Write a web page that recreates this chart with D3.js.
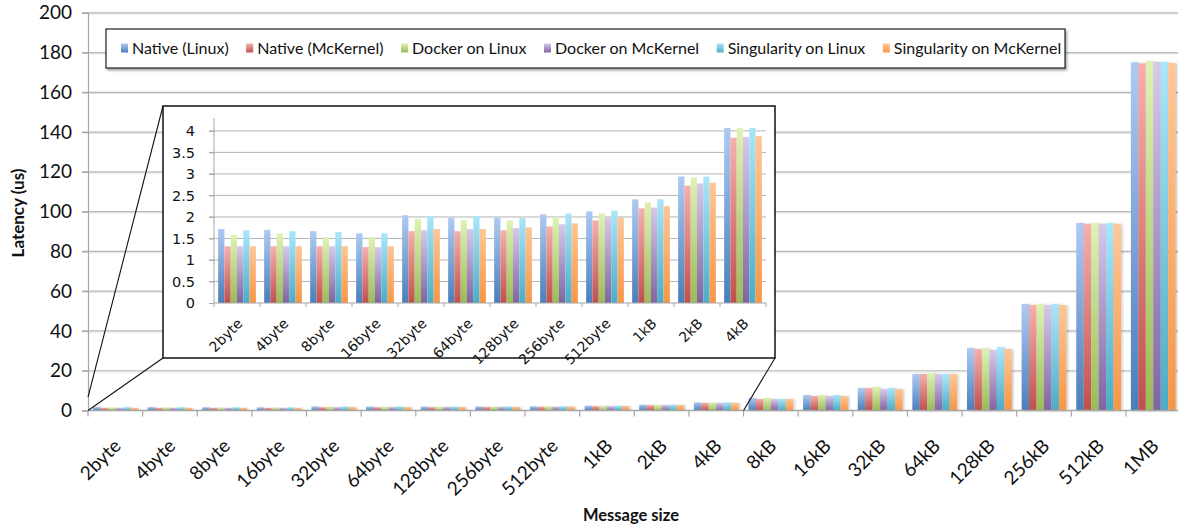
<!DOCTYPE html>
<html>
<head>
<meta charset="utf-8">
<script src="https://cdn.jsdelivr.net/npm/d3@7"></script>
<style>
  html, body { margin: 0; padding: 0; background: #fff; }
  svg { display: block; }
</style>
</head>
<body>
<svg id="chart" width="1178" height="529"></svg>
<script>
// Message sizes on the x axis
const categories = ["2byte","4byte","8byte","16byte","32byte","64byte","128byte","256byte","512byte",
  "1kB","2kB","4kB","8kB","16kB","32kB","64kB","128kB","256kB","512kB","1MB"];

// Latency in microseconds, one array per configuration
const nativeLinux    = [1.72,1.70,1.67,1.62,2.04,1.98,1.98,2.06,2.13,2.41,2.94,4.07,6.3,7.8,11.3,18.4,31.4,53.6,94.3,175.1];
const nativeMcKernel = [1.32,1.32,1.32,1.30,1.67,1.67,1.69,1.78,1.92,2.20,2.73,3.84,5.8,7.3,11.3,18.4,30.9,53.1,93.9,174.6];
const dockerLinux    = [1.58,1.62,1.53,1.53,1.95,1.92,1.92,1.99,2.08,2.34,2.92,4.07,6.3,7.8,11.8,18.9,31.4,53.6,94.3,175.8];
const dockerMcKernel = [1.32,1.32,1.32,1.30,1.69,1.72,1.74,1.83,1.99,2.22,2.78,3.86,5.8,7.3,10.8,18.4,30.4,53.1,93.9,175.3];
const singLinux      = [1.69,1.67,1.65,1.62,2.02,2.02,1.98,2.08,2.15,2.41,2.94,4.07,5.8,7.8,11.3,18.4,31.9,53.6,94.3,175.3];
const singMcKernel   = [1.32,1.32,1.32,1.32,1.72,1.72,1.76,1.85,1.98,2.25,2.80,3.88,5.8,7.3,10.8,18.4,30.9,53.1,93.9,174.7];

const seriesNames = ["Native (Linux)","Native (McKernel)","Docker on Linux","Docker on McKernel",
  "Singularity on Linux","Singularity on McKernel"];
const seriesValues = [nativeLinux, nativeMcKernel, dockerLinux, dockerMcKernel, singLinux, singMcKernel];

const mainTicks  = [0,20,40,60,80,100,120,140,160,180,200];
const insetTicks = [0,0.5,1,1.5,2,2.5,3,3.5,4];
const insetCount = 12; // 2byte .. 4kB are magnified in the inset

// Gradient stops (top, bottom) per series
const gradTop    = ["#aecaf2","#f6b0ad","#dff2b4","#d6c9ea","#abe6fa","#fdc797"];
const gradBottom = ["#4a7ebb","#c0504d","#9bbb59","#8064a2","#4bacc6","#f79646"];

const series = seriesNames.map((name, i) => ({ name, i, values: seriesValues[i] }));

const svg = d3.select("#chart");
const defs = svg.append("defs");

series.forEach(s => {
  const g = defs.append("linearGradient")
    .attr("id", "grad" + s.i)
    .attr("x1", 0).attr("y1", 0).attr("x2", 0).attr("y2", 1);
  g.append("stop").attr("offset", "0%").attr("stop-color", gradTop[s.i]);
  g.append("stop").attr("offset", "100%").attr("stop-color", gradBottom[s.i]);
});

const shadow = defs.append("filter").attr("id", "barShadow")
  .attr("x", "-20%").attr("y", "-5%").attr("width", "160%").attr("height", "110%");
shadow.append("feDropShadow").attr("dx", 1.5).attr("dy", 0.5)
  .attr("stdDeviation", 0.8).attr("flood-color", "#000").attr("flood-opacity", 0.22);

const boxShadow = defs.append("filter").attr("id", "boxShadow")
  .attr("x", "-5%").attr("y", "-20%").attr("width", "110%").attr("height", "150%");
boxShadow.append("feDropShadow").attr("dx", 1.5).attr("dy", 2)
  .attr("stdDeviation", 1).attr("flood-color", "#000").attr("flood-opacity", 0.35);

const sansMain = "Lato, 'Open Sans', sans-serif";
const sansInset = "'DejaVu Sans', Verdana, sans-serif";

// ---------- Main chart ----------
const main = { left: 88, right: 1180.6, top: 12.8, bottom: 410.5 };

const x0 = d3.scaleBand().domain(categories).range([main.left, main.right]).padding(0);
const x1 = d3.scaleBand().domain(series.map(s => s.i))
  .range([x0.bandwidth() * 0.09, x0.bandwidth() * 0.91]).padding(0);
const y = d3.scaleLinear().domain([0, 200]).range([main.bottom, main.top]);

const gMain = svg.append("g");

// horizontal gridlines with a faint shadow line beneath
mainTicks.filter(t => t > 0).forEach(t => {
  gMain.append("line")
    .attr("x1", main.left).attr("x2", 1178)
    .attr("y1", y(t) + 1.2).attr("y2", y(t) + 1.2)
    .attr("stroke", "#e2e2e2").attr("stroke-width", 1);
  gMain.append("line")
    .attr("x1", main.left - 6).attr("x2", 1178)
    .attr("y1", y(t)).attr("y2", y(t))
    .attr("stroke", "#b8b8b8").attr("stroke-width", 1.2);
});

// y axis
const yAxis = d3.axisLeft(y).tickValues(mainTicks).tickSize(6).tickPadding(10).tickFormat(d3.format("d"));
const gy = gMain.append("g").attr("transform", `translate(${main.left},0)`).call(yAxis);
gy.select(".domain").attr("stroke", "#a6a6a6").attr("stroke-width", 1.2);
gy.selectAll(".tick line").attr("stroke", "#a6a6a6").attr("stroke-width", 1.2);
gy.selectAll(".tick text")
  .attr("font-family", sansMain).attr("font-size", 19).attr("fill", "#111");

// bars
const groups = gMain.append("g").selectAll("g")
  .data(categories.map((c, ci) => ({ c, ci })))
  .join("g")
  .attr("transform", d => `translate(${x0(d.c)},0)`);

groups.selectAll("rect")
  .data(d => series.map(s => ({ s: s.i, v: s.values[d.ci] })))
  .join("rect")
  .attr("x", d => x1(d.s))
  .attr("width", x1.bandwidth())
  .attr("y", d => y(d.v))
  .attr("height", d => y(0) - y(d.v))
  .attr("fill", d => `url(#grad${d.s})`)
  .attr("filter", "url(#barShadow)");

// x axis
const xAxisG = gMain.append("g").attr("transform", `translate(0,${main.bottom})`);
xAxisG.append("line").attr("x1", main.left).attr("x2", 1178).attr("y1", 0).attr("y2", 0)
  .attr("stroke", "#a6a6a6").attr("stroke-width", 1.4);
categories.forEach(c => {
  xAxisG.append("line").attr("x1", x0(c)).attr("x2", x0(c)).attr("y1", 0).attr("y2", 6)
    .attr("stroke", "#a6a6a6").attr("stroke-width", 1.2);
});
xAxisG.selectAll("text.cat")
  .data(categories)
  .join("text")
  .attr("class", "cat")
  .attr("text-anchor", "end")
  .attr("dy", "0.35em")
  .attr("transform", c => `translate(${x0(c) + x0.bandwidth() / 2 + 2},${32}) rotate(-45)`)
  .attr("font-family", sansMain)
  .attr("font-size", 19)
  .attr("fill", "#111")
  .text(c => c);

// axis titles
svg.append("text")
  .attr("x", 631).attr("y", 521)
  .attr("text-anchor", "middle")
  .attr("font-family", sansMain)
  .attr("font-weight", "bold").attr("font-size", 16.5).attr("fill", "#111")
  .text("Message size");
svg.append("text")
  .attr("transform", "translate(24,213) rotate(-90)")
  .attr("text-anchor", "middle")
  .attr("font-family", sansMain)
  .attr("font-weight", "bold").attr("font-size", 17).attr("fill", "#111")
  .text("Latency (us)");

// ---------- Legend ----------
const legend = { x: 106, y: 29, w: 959, h: 39 };
const gLeg = svg.append("g");
gLeg.append("rect")
  .attr("x", legend.x).attr("y", legend.y).attr("width", legend.w).attr("height", legend.h)
  .attr("fill", "#fff").attr("stroke", "#222").attr("stroke-width", 1.2)
  .attr("filter", "url(#boxShadow)");
let lx = legend.x + 15;
series.forEach(s => {
  gLeg.append("rect").attr("x", lx).attr("y", legend.y + legend.h / 2 - 5)
    .attr("width", 7).attr("height", 9).attr("fill", `url(#grad${s.i})`);
  const t = gLeg.append("text")
    .attr("x", lx + 11).attr("y", legend.y + legend.h / 2)
    .attr("dy", "0.36em")
    .attr("font-family", sansMain)
    .attr("font-size", 16).attr("fill", "#111")
    .text(s.name);
  lx += 11 + t.node().getComputedTextLength() + 17.5;
});

// ---------- Inset (magnified small sizes) ----------
const box = { left: 163, top: 106, right: 775, bottom: 358 };
const inset = { left: 214, right: 766, top: 118, bottom: 303 };
const insetCats = categories.slice(0, insetCount);

const xi0 = d3.scaleBand().domain(insetCats).range([inset.left, inset.right]).padding(0);
const xi1 = d3.scaleBand().domain(series.map(s => s.i))
  .range([xi0.bandwidth() * 0.09, xi0.bandwidth() * 0.91]).padding(0);
const yi = d3.scaleLinear().domain([0, 4.3]).range([inset.bottom, inset.top]);

// connector lines from the main chart's small-size region to the inset frame
const gConn = svg.append("g").attr("stroke", "#111").attr("stroke-width", 1.1);
gConn.append("line").attr("x1", x0(categories[0])).attr("y1", y(6.7))
  .attr("x2", box.left).attr("y2", box.top);
gConn.append("line").attr("x1", x0(categories[0])).attr("y1", y(0))
  .attr("x2", box.left).attr("y2", box.bottom);
gConn.append("line").attr("x1", x0(categories[insetCount])).attr("y1", y(0))
  .attr("x2", box.right).attr("y2", box.bottom);

const gIn = svg.append("g");
gIn.append("rect")
  .attr("x", box.left).attr("y", box.top)
  .attr("width", box.right - box.left).attr("height", box.bottom - box.top)
  .attr("fill", "#fff").attr("stroke", "#111").attr("stroke-width", 1.5);

insetTicks.filter(t => t > 0).forEach(t => {
  gIn.append("line")
    .attr("x1", inset.left - 5).attr("x2", inset.right)
    .attr("y1", yi(t)).attr("y2", yi(t))
    .attr("stroke", "#b5b5b5").attr("stroke-width", 1);
});

const yiAxis = d3.axisLeft(yi).tickValues(insetTicks).tickSize(5).tickPadding(14)
  .tickFormat(d3.format("~g"));
const giy = gIn.append("g").attr("transform", `translate(${inset.left},0)`).call(yiAxis);
giy.select(".domain").attr("stroke", "#a6a6a6").attr("d", `M0,${inset.top}V${inset.bottom}`);
giy.selectAll(".tick line").attr("stroke", "#a6a6a6");
giy.selectAll(".tick text")
  .attr("font-family", sansInset).attr("font-size", 14.5).attr("fill", "#111");

const gIGroups = gIn.append("g").selectAll("g")
  .data(insetCats.map((c, ci) => ({ c, ci })))
  .join("g")
  .attr("transform", d => `translate(${xi0(d.c)},0)`);
gIGroups.selectAll("rect")
  .data(d => series.map(s => ({ s: s.i, v: s.values[d.ci] })))
  .join("rect")
  .attr("x", d => xi1(d.s))
  .attr("width", xi1.bandwidth())
  .attr("y", d => yi(d.v))
  .attr("height", d => yi(0) - yi(d.v))
  .attr("fill", d => `url(#grad${d.s})`);

const gix = gIn.append("g").attr("transform", `translate(0,${inset.bottom})`);
gix.append("line").attr("x1", inset.left).attr("x2", inset.right).attr("y1", 0).attr("y2", 0)
  .attr("stroke", "#a6a6a6").attr("stroke-width", 1.2);
insetCats.concat([null]).forEach(c => {
  const xx = c === null ? inset.right : xi0(c);
  gix.append("line").attr("x1", xx).attr("x2", xx).attr("y1", 0).attr("y2", 4)
    .attr("stroke", "#a6a6a6");
});
gix.selectAll("text")
  .data(insetCats)
  .join("text")
  .attr("text-anchor", "end")
  .attr("dy", "0.35em")
  .attr("transform", c => `translate(${xi0(c) + xi0.bandwidth() / 2 + 3},${18}) rotate(-45)`)
  .attr("font-family", sansInset)
  .attr("font-size", 14)
  .attr("fill", "#111")
  .text(c => c);
</script>
</body>
</html>
